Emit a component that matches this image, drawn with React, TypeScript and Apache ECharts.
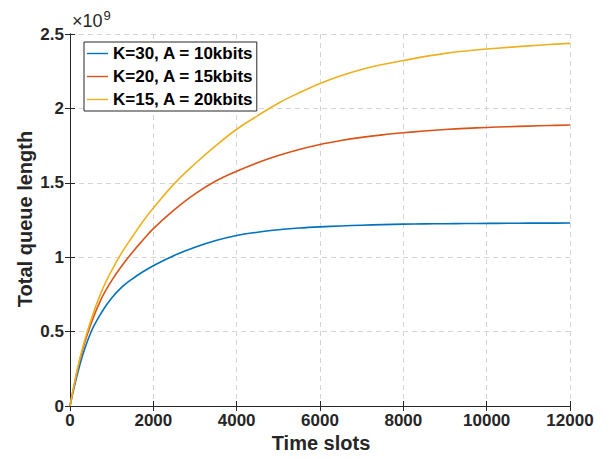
import React, { useEffect, useRef } from "react";
import * as echarts from "echarts";

const timeSlots = [0, 250, 500, 750, 1000, 1250, 1500, 1750, 2000, 2500, 3000, 3500, 4000, 4500, 5000, 5500, 6000, 6500, 7000, 7500, 8000, 8500, 9000, 9500, 10000, 10500, 11000, 11500, 12000];
// values in units of 1e9
const seriesK30 = [0, 0.29, 0.494, 0.625, 0.725, 0.8, 0.855, 0.902, 0.943, 1.012, 1.067, 1.112, 1.146, 1.168, 1.185, 1.196, 1.204, 1.21, 1.215, 1.219, 1.222, 1.224, 1.225, 1.226, 1.227, 1.228, 1.229, 1.229, 1.23];
const seriesK20 = [0, 0.325, 0.55, 0.72, 0.843, 0.944, 1.034, 1.115, 1.192, 1.318, 1.426, 1.512, 1.578, 1.635, 1.683, 1.724, 1.758, 1.784, 1.805, 1.822, 1.836, 1.848, 1.858, 1.866, 1.872, 1.877, 1.881, 1.885, 1.888];
const seriesK15 = [0, 0.335, 0.575, 0.765, 0.91, 1.034, 1.139, 1.24, 1.33, 1.493, 1.628, 1.75, 1.86, 1.95, 2.035, 2.105, 2.168, 2.22, 2.262, 2.295, 2.322, 2.348, 2.37, 2.386, 2.399, 2.41, 2.42, 2.429, 2.437];
const seriesNames = ["K=30, A = 10kbits", "K=20, A = 15kbits", "K=15, A = 20kbits"];
const seriesColors = ["#0072BD", "#D95319", "#EDB120"];
const xTicks = { min: 0, max: 12000, interval: 2000 };
const yTicks = { min: 0, max: 2.5, interval: 0.5 };

const FONT = "Liberation Sans, Arial, Helvetica, sans-serif";
const DARK = "#262626";

export default function App() {
  const ref = useRef<HTMLDivElement>(null);
  useEffect(() => {
    document.body.style.margin = "0";
    if (!ref.current) return;
    const chart = echarts.init(ref.current, undefined, { renderer: "svg" });
    const allSeries = [seriesK30, seriesK20, seriesK15];
    const axisLine = { show: true, lineStyle: { color: DARK, width: 1 } };
    const tick = { show: true, inside: true, length: 5, lineStyle: { color: DARK, width: 1 } };
    const gridLine = { show: true, lineStyle: { color: "#d4d4d4", type: [5, 4], width: 1 } };
    chart.setOption({
      animation: false,
      backgroundColor: "#ffffff",
      grid: { left: 70, right: 40, top: 34, bottom: 53, containLabel: false },
      legend: {
        orient: "vertical",
        left: 84,
        top: 42,
        padding: [3, 3, 3, 3],
        itemGap: 6,
        itemWidth: 21,
        itemHeight: 17,
        icon: "path://M0,0L30,0L30,2L0,2Z",
        borderColor: DARK,
        borderWidth: 1,
        borderRadius: 0,
        backgroundColor: "#ffffff",
        textStyle: { fontFamily: FONT, fontWeight: "bold", fontSize: 17, color: "#000" },
        data: seriesNames,
      },
      xAxis: [
        {
          type: "value",
          min: xTicks.min,
          max: xTicks.max,
          interval: xTicks.interval,
          axisLine,
          axisTick: tick,
          axisLabel: {
            fontFamily: FONT,
            fontWeight: "bold",
            fontSize: 17,
            color: DARK,
            margin: 6,
            formatter: (v: number) => String(v),
          },
          splitLine: gridLine,
        },
        {
          type: "value",
          position: "top",
          min: xTicks.min,
          max: xTicks.max,
          interval: xTicks.interval,
          axisLine,
          axisTick: tick,
          axisLabel: { show: false },
          splitLine: { show: false },
        },
      ],
      yAxis: [
        {
          type: "value",
          min: yTicks.min,
          max: yTicks.max,
          interval: yTicks.interval,
          axisLine,
          axisTick: tick,
          axisLabel: {
            fontFamily: FONT,
            fontWeight: "bold",
            fontSize: 17,
            color: DARK,
            margin: 6,
            formatter: (v: number) => String(v),
          },
          splitLine: gridLine,
        },
        {
          type: "value",
          position: "right",
          min: yTicks.min,
          max: yTicks.max,
          interval: yTicks.interval,
          axisLine,
          axisTick: tick,
          axisLabel: { show: false },
          splitLine: { show: false },
        },
      ],
      series: allSeries.map((vals, i) => ({
        name: seriesNames[i],
        type: "line",
        data: timeSlots.map((t, j) => [t, vals[j]]),
        smooth: 0.4,
        symbol: "none",
        showSymbol: false,
        lineStyle: { color: seriesColors[i], width: 1.6 },
        itemStyle: { color: seriesColors[i] },
        z: 3,
      })),
      graphic: [
        {
          type: "text",
          x: 72,
          y: 21,
          style: {
            text: "{a|×10}{b|9}",
            textVerticalAlign: "middle",
            rich: {
              a: { fontFamily: FONT, fontSize: 18, fill: DARK, fontWeight: "normal" },
              b: { fontFamily: FONT, fontSize: 13, fill: DARK, verticalAlign: "top", padding: [0, 0, 11, 1] },
            },
          },
        },
        {
          type: "text",
          x: 321,
          y: 443,
          style: {
            text: "Time slots",
            fontFamily: FONT,
            fontWeight: "bold",
            fontSize: 20,
            fill: DARK,
            textAlign: "center",
            textVerticalAlign: "middle",
          },
        },
        {
          type: "text",
          x: 25,
          y: 219,
          rotation: Math.PI / 2,
          style: {
            text: "Total queue length",
            fontFamily: FONT,
            fontWeight: "bold",
            fontSize: 20,
            fill: DARK,
            textAlign: "center",
            textVerticalAlign: "middle",
          },
        },
      ],
    });
    return () => chart.dispose();
  }, []);
  return <div ref={ref} style={{ width: 610, height: 459 }} />;
}
